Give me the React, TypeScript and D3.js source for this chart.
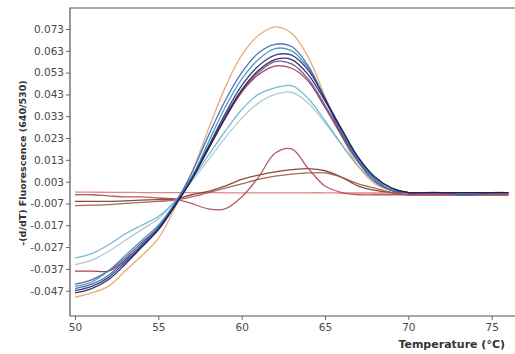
import React, { useEffect, useRef } from 'react';
import * as d3 from 'd3';

// melting temperature grid (°C)
const temps = [50, 51, 52, 53, 54, 55, 56, 57, 58, 59, 60, 61, 62, 63, 64, 65, 66, 67, 68, 69, 70, 71, 72, 73, 74, 75, 76];
const xTicks = [50, 55, 60, 65, 70, 75];
const yTicks = [0.073, 0.063, 0.053, 0.043, 0.033, 0.023, 0.013, 0.003, -0.007, -0.017, -0.027, -0.037, -0.047];

const flatRed = [-0.0018, -0.0018, -0.0019, -0.0019, -0.002, -0.002, -0.002, -0.002, -0.002, -0.0021, -0.0021, -0.0021, -0.0021, -0.0021, -0.0021, -0.0021, -0.0022, -0.0022, -0.0022, -0.0022, -0.0022, -0.0022, -0.0022, -0.0022, -0.0022, -0.0022, -0.0022];
const brown1 = [-0.006, -0.006, -0.006, -0.0058, -0.0055, -0.0052, -0.005, -0.003, -0.0015, 0.001, 0.004, 0.006, 0.0075, 0.0085, 0.009, 0.008, 0.005, 0.001, -0.001, -0.002, -0.003, -0.003, -0.003, -0.003, -0.003, -0.003, -0.003];
const brown2 = [-0.008, -0.0078, -0.0075, -0.007, -0.0065, -0.006, -0.0055, -0.004, -0.002, 0.0, 0.002, 0.004, 0.0055, 0.0065, 0.007, 0.007, 0.005, 0.002, 0.0, -0.002, -0.003, -0.003, -0.003, -0.003, -0.003, -0.003, -0.003];
const redPeak = [-0.003, -0.003, -0.0035, -0.004, -0.004, -0.0045, -0.005, -0.007, -0.0095, -0.0095, -0.004, 0.005, 0.016, 0.018, 0.009, 0.001, -0.002, -0.003, -0.003, -0.003, -0.003, -0.003, -0.003, -0.003, -0.003, -0.003, -0.003];
const grayBlue = [-0.035, -0.033, -0.029, -0.024, -0.019, -0.014, -0.006, 0.003, 0.013, 0.023, 0.032, 0.039, 0.043, 0.044, 0.039, 0.03, 0.02, 0.01, 0.003, -0.001, -0.002, -0.002, -0.002, -0.002, -0.002, -0.002, -0.002];
const lightBlue = [-0.032, -0.03, -0.026, -0.021, -0.017, -0.013, -0.006, 0.004, 0.015, 0.026, 0.036, 0.043, 0.046, 0.047, 0.041, 0.031, 0.02, 0.01, 0.003, -0.001, -0.002, -0.002, -0.002, -0.002, -0.002, -0.002, -0.002];
const orange = [-0.05, -0.048, -0.045, -0.038, -0.031, -0.023, -0.009, 0.007, 0.027, 0.046, 0.061, 0.07, 0.074, 0.071, 0.06, 0.042, 0.024, 0.01, 0.002, -0.001, -0.002, -0.002, -0.002, -0.002, -0.002, -0.002, -0.002];
const maroon = [-0.038, -0.038, -0.038, -0.033, -0.026, -0.018, -0.008, 0.004, 0.018, 0.032, 0.044, 0.052, 0.056, 0.055, 0.049, 0.037, 0.024, 0.012, 0.004, -0.001, -0.002, -0.002, -0.002, -0.002, -0.002, -0.002, -0.002];
const purple = [-0.044, -0.042, -0.038, -0.032, -0.025, -0.018, -0.007, 0.005, 0.019, 0.033, 0.045, 0.053, 0.058, 0.057, 0.05, 0.038, 0.025, 0.013, 0.004, -0.001, -0.002, -0.002, -0.002, -0.002, -0.002, -0.002, -0.002];
const teal = [-0.045, -0.043, -0.038, -0.031, -0.024, -0.017, -0.007, 0.005, 0.021, 0.037, 0.05, 0.059, 0.064, 0.063, 0.055, 0.041, 0.026, 0.013, 0.004, -0.001, -0.002, -0.002, -0.002, -0.002, -0.002, -0.002, -0.002];
const blue = [-0.046, -0.044, -0.04, -0.033, -0.026, -0.018, -0.007, 0.007, 0.024, 0.04, 0.053, 0.062, 0.066, 0.065, 0.056, 0.041, 0.025, 0.012, 0.003, -0.001, -0.002, -0.002, -0.002, -0.003, -0.003, -0.002, -0.002];
const navy = [-0.047, -0.045, -0.041, -0.034, -0.027, -0.019, -0.008, 0.004, 0.019, 0.034, 0.047, 0.056, 0.061, 0.061, 0.054, 0.041, 0.027, 0.014, 0.005, 0.0, -0.002, -0.002, -0.002, -0.002, -0.002, -0.002, -0.002];
const navy2 = [-0.048, -0.046, -0.042, -0.035, -0.027, -0.019, -0.008, 0.004, 0.018, 0.032, 0.045, 0.054, 0.059, 0.059, 0.052, 0.04, 0.027, 0.014, 0.005, 0.0, -0.002, -0.002, -0.002, -0.002, -0.002, -0.002, -0.002];

const series = [
  { values: flatRed, color: '#dc7a78' },
  { values: brown1, color: '#7c3a2e' },
  { values: brown2, color: '#9a5a48' },
  { values: redPeak, color: '#b0485a' },
  { values: grayBlue, color: '#a3c8d2' },
  { values: lightBlue, color: '#6fb1cc' },
  { values: orange, color: '#e4a36e' },
  { values: maroon, color: '#9c2c4a' },
  { values: purple, color: '#654b8e' },
  { values: teal, color: '#3d93b8' },
  { values: blue, color: '#3a64b4' },
  { values: navy, color: '#2a2f78' },
  { values: navy2, color: '#1c1f4e' },
];

export default function App() {
  const svgRef = useRef(null);

  useEffect(() => {
    const w = 515;
    const h = 354;
    const left = 70;
    const top = 8;
    const bottom = 316;
    const right = 516;

    const svg = d3.select(svgRef.current);
    svg.selectAll('*').remove();

    const x = d3.scaleLinear().domain([50, 75]).range([75, 491.7]);
    const y = d3.scaleLinear().domain([-0.047, 0.073]).range([290.7, 29]);

    svg
      .append('clipPath')
      .attr('id', 'plot')
      .append('rect')
      .attr('x', left)
      .attr('y', top)
      .attr('width', right - left)
      .attr('height', bottom - top);

    const line = d3
      .line<number>()
      .x((d, i) => x(temps[i]))
      .y((d) => y(d))
      .curve(d3.curveCatmullRom);

    const g = svg.append('g').attr('clip-path', 'url(#plot)');
    series.forEach((s) => {
      g.append('path')
        .attr('d', line(s.values))
        .attr('fill', 'none')
        .attr('stroke', s.color)
        .attr('stroke-width', 1.3)
        .attr('stroke-opacity', 0.9);
    });

    // frame
    svg
      .append('path')
      .attr('d', `M${right},${top}H${left}V${bottom}H${right}`)
      .attr('fill', 'none')
      .attr('stroke', '#555')
      .attr('stroke-width', 1.2);

    //axes
    const yAxis = d3
      .axisLeft(y)
      .tickValues(yTicks)
      .tickSize(4)
      .tickFormat(d3.format('.3f'));
    const ya = svg.append('g').attr('transform', `translate(${left},0)`).call(yAxis);
    ya.select('.domain').remove();
    ya.selectAll('line').attr('stroke', '#666');
    ya.selectAll('text')
      .attr('fill', '#4a4a4a')
      .style('font-family', 'DejaVu Sans')
      .style('font-size', '10.5px')
      .attr('x', -6)
      .text((d) => d3.format('.3f')(d as number).replace('−', '-'));

    const xAxis = d3.axisBottom(x).tickValues(xTicks).tickSize(4);
    const xa = svg.append('g').attr('transform', `translate(0,${bottom})`).call(xAxis);
    xa.select('.domain').remove();
    xa.selectAll('line').attr('stroke', '#666');
    xa.selectAll('text')
      .attr('fill', '#4a4a4a')
      .attr('y', 8)
      .style('font-family', 'DejaVu Sans')
      .style('font-size', '10.5px');

    svg
      .append('text')
      .attr('x', 505)
      .attr('y', 348)
      .attr('text-anchor', 'end')
      .attr('fill', '#333')
      .style('font-family', 'DejaVu Sans')
      .style('font-weight', 'bold')
      .style('font-size', '11px')
      .text('Temperature (°C)');

    svg
      .append('text')
      .attr('transform', 'translate(26,163) rotate(-90)')
      .attr('text-anchor', 'middle')
      .attr('fill', '#333')
      .style('font-family', 'DejaVu Sans')
      .style('font-weight', 'bold')
      .style('font-size', '9.5px')
      .text('-(d/dT) Fluorescence (640/530)');

    svg.attr('width', w).attr('height', h);
  }, []);

  return (
    <svg
      ref={svgRef}
      width={515}
      height={354}
      style={{ position: 'absolute', left: 0, top: 0, background: '#fff' }}
    ></svg>
  );
}
